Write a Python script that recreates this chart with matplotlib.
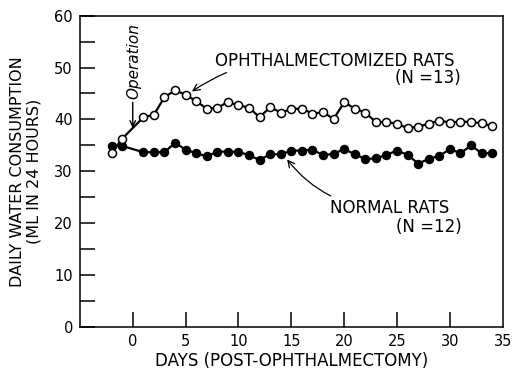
import numpy as np
import matplotlib
matplotlib.use("Agg")
import matplotlib.pyplot as plt

# days after the operation (no reading on day 0)
days = [-2, -1] + list(range(1, 35))

# ophthalmectomized rats (N=13), ml / 24 h
ophth = [33.5, 36.3, 40.4, 40.9, 44.3, 45.6, 44.8, 43.5, 42.1, 42.2,
         43.4, 42.7, 42.3, 40.4, 42.4, 41.3, 42.0, 42.1, 41.1, 41.4,
         40.1, 43.3, 42.1, 41.3, 39.5, 39.5, 39.2, 38.3, 38.6, 39.2,
         39.8, 39.4, 39.6, 39.5, 39.3, 38.7]

# normal rats (N=12)
normal = [34.9, 34.9, 33.7, 33.7, 33.7, 35.5, 34.2, 33.5, 32.9, 33.8,
          33.8, 33.8, 33.1, 32.2, 33.3, 33.3, 34.0, 34.0, 34.2, 33.1,
          33.4, 34.3, 33.3, 32.4, 32.5, 33.2, 34.0, 33.2, 31.5, 32.4,
          33.0, 34.3, 33.5, 35.0, 33.5, 33.5]

xticks = [0, 5, 10, 15, 20, 25, 30, 35]
yticks = [0, 10, 20, 30, 40, 50, 60]

plt.rcParams['font.family'] = 'DejaVu Sans'
fig = plt.figure(figsize=(5.12, 3.71), dpi=100)
ax = fig.add_axes([0.156, 0.118, 0.826, 0.840])

ax.plot(days, normal, '-o', color='black', lw=1.6, ms=5.8,
        mfc='black', mec='black', zorder=3)
ax.plot(days, ophth, '-o', color='black', lw=1.6, ms=5.8,
        mfc='white', mec='black', mew=1.1, zorder=4)

ax.set_xlim(-5, 35)
ax.set_ylim(0, 60)
ax.set_xticks(xticks)
ax.set_yticks(yticks)
ax.set_yticks(np.arange(5, 60, 10), minor=True)
ax.set_xticks([], minor=True)
ax.tick_params(axis='both', which='both', direction='in', length=11,
               width=1.1, labelsize=10.5)
ax.tick_params(axis='x', pad=5, top=False)
ax.tick_params(axis='y', pad=5, right=False)
# tick at 35 would sit on the right border
ax.xaxis.get_major_ticks()[-1].tick1line.set_visible(False)
for s in ax.spines.values():
    s.set_linewidth(1.1)

ax.set_xlabel('DAYS (POST-OPHTHALMECTOMY)', fontsize=12, labelpad=2)
ax.set_ylabel('DAILY WATER CONSUMPTION\n(ML IN 24 HOURS)', fontsize=11.5,
              labelpad=9, linespacing=1.1)

# annotations
ax.annotate('', xy=(0, 38.4), xytext=(0, 43.3),
            arrowprops=dict(arrowstyle='->', color='black', lw=1.0,
                            shrinkA=0, shrinkB=0))
ax.text(0.1, 51.2, 'Operation', rotation=90, style='italic',
        fontsize=11, ha='center', va='center')

ax.annotate('OPHTHALMECTOMIZED RATS', xy=(5.6, 45.4), xytext=(7.8, 51.3),
            fontsize=12, ha='left', va='center',
            arrowprops=dict(arrowstyle='->', color='black', lw=0.9,
                            connectionstyle='arc3,rad=0.2',
                            shrinkA=0, shrinkB=0))
ax.text(31.0, 48.0, '(N =13)', fontsize=12, ha='right', va='center')

ax.annotate('NORMAL RATS', xy=(14.6, 32.3), xytext=(18.7, 22.9),
            fontsize=12, ha='left', va='center',
            arrowprops=dict(arrowstyle='->', color='black', lw=0.9,
                            connectionstyle='arc3,rad=-0.25',
                            shrinkA=1, shrinkB=0))
ax.text(31.1, 19.2, '(N =12)', fontsize=12, ha='right', va='center')

fig.savefig('out.png', dpi=100)
